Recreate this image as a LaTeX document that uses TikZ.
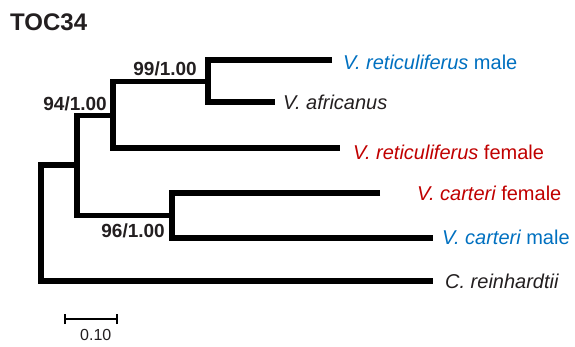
\documentclass[tikz,border=0pt]{standalone}
\usepackage{fontspec}
\setmainfont{Liberation Sans}
\definecolor{mblue}{RGB}{0,112,192}
\definecolor{mred}{RGB}{192,0,0}
\definecolor{ink}{RGB}{35,31,32}
\begin{document}
\begin{tikzpicture}[x=1pt,y=-1pt,
  branch/.style={line width=5.5pt, draw=black, line join=miter, line cap=butt},
  leaf/.style={anchor=base west, inner sep=0pt, font=\fontsize{20}{24}\selectfont},
  support/.style={anchor=base east, inner sep=0pt, font=\fontsize{19}{23}\selectfont\bfseries, text=ink},
  scalebar/.style={line width=2pt, draw=black, line cap=butt}
]
\useasboundingbox (0,0) rectangle (575,346);

% title
\node[anchor=base west, inner sep=0pt, font=\fontsize{24}{28}\selectfont\bfseries, text=ink] (title) at (10,30) {TOC34};

% internal nodes
\coordinate (root) at (41,223);
\coordinate (n77) at (77,165);
\coordinate (n113) at (113,115.5);
\coordinate (n208) at (208,81.5);
\coordinate (n172) at (172,215.5);

% branch ends
\coordinate (e1) at (332,60);
\coordinate (e2) at (275,102);
\coordinate (e3) at (340,148);
\coordinate (e4) at (380,193);
\coordinate (e5) at (433,238);
\coordinate (e6) at (433,281);

% branches
\draw[branch] (e1) -| (n208) |- (e2);
\draw[branch] (n208) -| (n113) |- (e3);
\draw[branch] (e4) -| (n172) |- (e5);
\draw[branch] (n113) -| (n77) |- (n172);
\draw[branch] (n77) -| (root) |- (e6);

% leaf labels
\node[leaf, text=mblue] (l1) at (343,69) {\itshape V. reticuliferus\upshape{} male};
\node[leaf, text=ink] (l2) at (283,109.5) {\itshape V. africanus};
\node[leaf, text=mred] (l3) at (353,159) {\itshape V. reticuliferus\upshape{} female};
\node[leaf, text=mred] (l4) at (417,200.5) {\itshape V. carteri\upshape{} female};
\node[leaf, text=mblue] (l5) at (442,244) {\itshape V. carteri\upshape{} male};
\node[leaf, text=ink] (l6) at (445,288) {\itshape C. reinhardtii};

% support values
\node[support] (s99) at (197,75) {99/1.00};
\node[support] (s94) at (107,110) {94/1.00};
\node[support] (s96) at (165,237.5) {96/1.00};

% scale bar
\coordinate (sbL) at (65,319);
\coordinate (sbR) at (117,319);
\draw[scalebar] (sbL) -- (sbR);
\draw[scalebar] ([yshift=-5pt]sbL) -- ([yshift=5pt]sbL);
\draw[scalebar] ([yshift=-5pt]sbR) -- ([yshift=5pt]sbR);
\node[anchor=base west, inner sep=0pt, font=\fontsize{16}{19}\selectfont, text=ink] (sblabel) at (80,340) {0.10};
\end{tikzpicture}
\end{document}
